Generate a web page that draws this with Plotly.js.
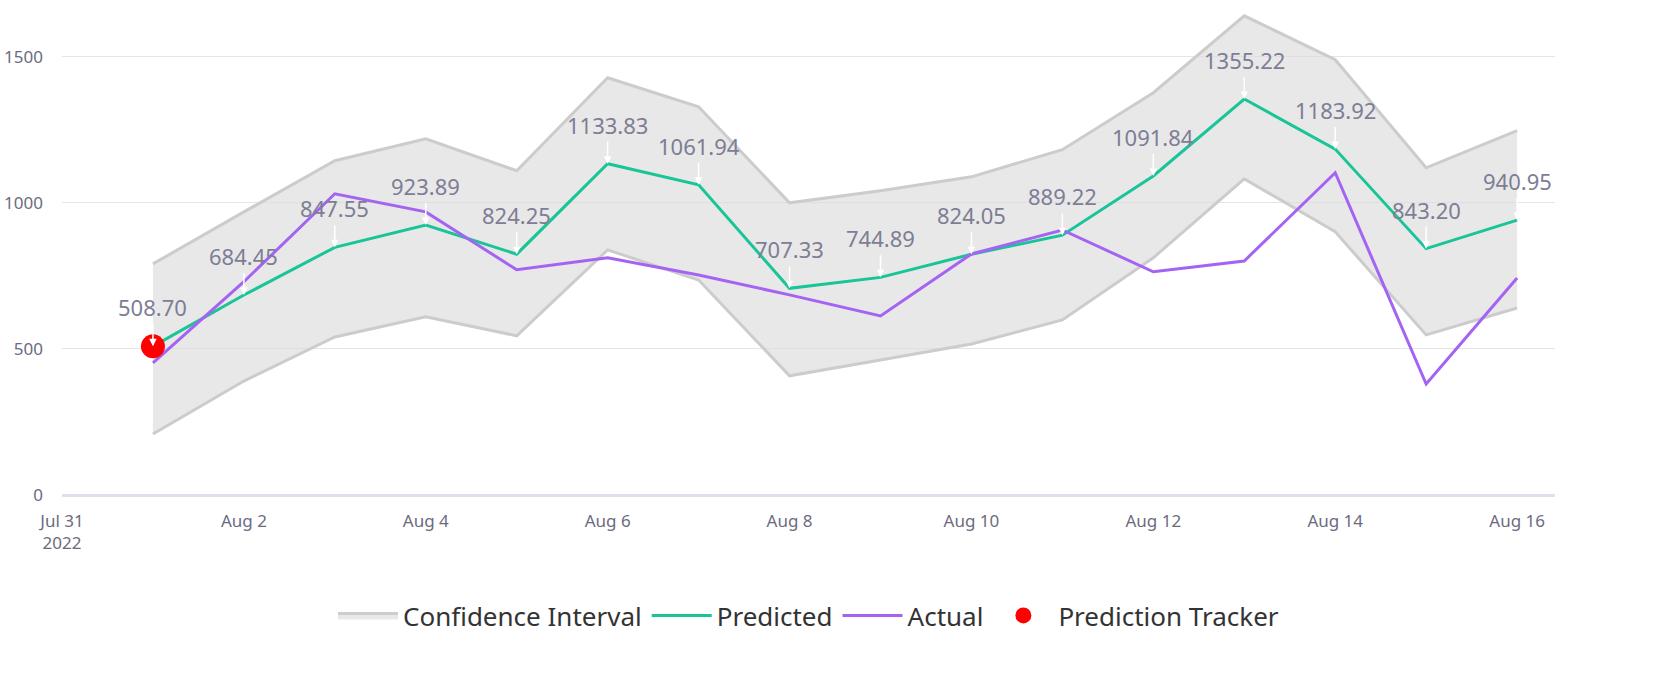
<!DOCTYPE html>
<html><head><meta charset="utf-8">
<script src="https://cdn.plot.ly/plotly-3.0.1.min.js"></script>
<style>body{margin:0;background:#fff}#c{width:1668px;height:698px}</style>
</head><body><div id="c"></div>
<script>
const dates = ["2022-08-01","2022-08-02","2022-08-03","2022-08-04","2022-08-05","2022-08-06","2022-08-07","2022-08-08","2022-08-09","2022-08-10","2022-08-11","2022-08-12","2022-08-13","2022-08-14","2022-08-15","2022-08-16"];
const predicted = [508.70,684.45,847.55,923.89,824.25,1133.83,1061.94,707.33,744.89,824.05,889.22,1091.84,1355.22,1183.92,843.20,940.95];
const actual = [452,730,1031,969,771,812,753,685,613,825,907,764,801,1103,380,743];
const upper = [791,969,1144,1219,1110,1428,1329,1000,1041,1089,1182,1377,1640,1490,1120,1247];
const lower = [209,390,541,610,545,839,736,408,462,517,599,812,1082,901,548,640];
const trackerDate = ["2022-08-01"];
const trackerValue = [508.70];

const traces = [
 {x:dates,y:lower,mode:'lines',line:{color:'#cccccc',width:3},showlegend:false,legendgroup:'ci',hoverinfo:'skip'},
 {x:dates,y:upper,mode:'lines',fill:'tonexty',fillcolor:'rgba(220,220,220,0.65)',line:{color:'#cccccc',width:3},name:'Confidence Interval',legendgroup:'ci'},
 {x:dates,y:predicted,mode:'lines',line:{color:'#19c598',width:3},name:'Predicted'},
 {x:dates,y:actual,mode:'lines',line:{color:'#a463f2',width:3},name:'Actual'},
 {x:trackerDate,y:trackerValue,mode:'markers',marker:{color:'#ff0000',size:24},name:'Prediction Tracker'}
];
const annotations = dates.map((d,i)=>({x:d,y:predicted[i],text:predicted[i].toFixed(2),showarrow:true,arrowhead:2,arrowcolor:'#ffffff',arrowwidth:1.5,ax:0,ay:-22,font:{size:22,color:'#7d7d95'},yanchor:'bottom'}));
Plotly.newPlot('c',traces,{
 width:1668,height:698,
 margin:{l:62,r:113,t:10,b:203},
 font:{family:'"Source Sans Pro", "Noto Sans", sans-serif',color:'#6b6b80'},
 paper_bgcolor:'#fff',plot_bgcolor:'#fff',
 xaxis:{type:'date',range:['2022-07-31','2022-08-16 10:00'],dtick:2*86400000,tick0:'2022-07-31',tickformat:'%b %-d\n%Y',showgrid:false,tickfont:{size:17,color:'#6b6b80'},ticks:'',zeroline:false,ticklabelstandoff:14},
 yaxis:{range:[0,1660],tickvals:[0,500,1000,1500],gridcolor:'#e4e4ea',tickfont:{size:17,color:'#6b6b80'},zeroline:true,zerolinecolor:'#e0e0ea',zerolinewidth:3,ticklabelstandoff:18},
 legend:{orientation:'h',x:0.5,xanchor:'center',y:-0.2,font:{size:26,color:'#333'},itemwidth:60,tracegroupgap:20},
 annotations:annotations,showlegend:true
},{displayModeBar:false});
</script></body></html>
